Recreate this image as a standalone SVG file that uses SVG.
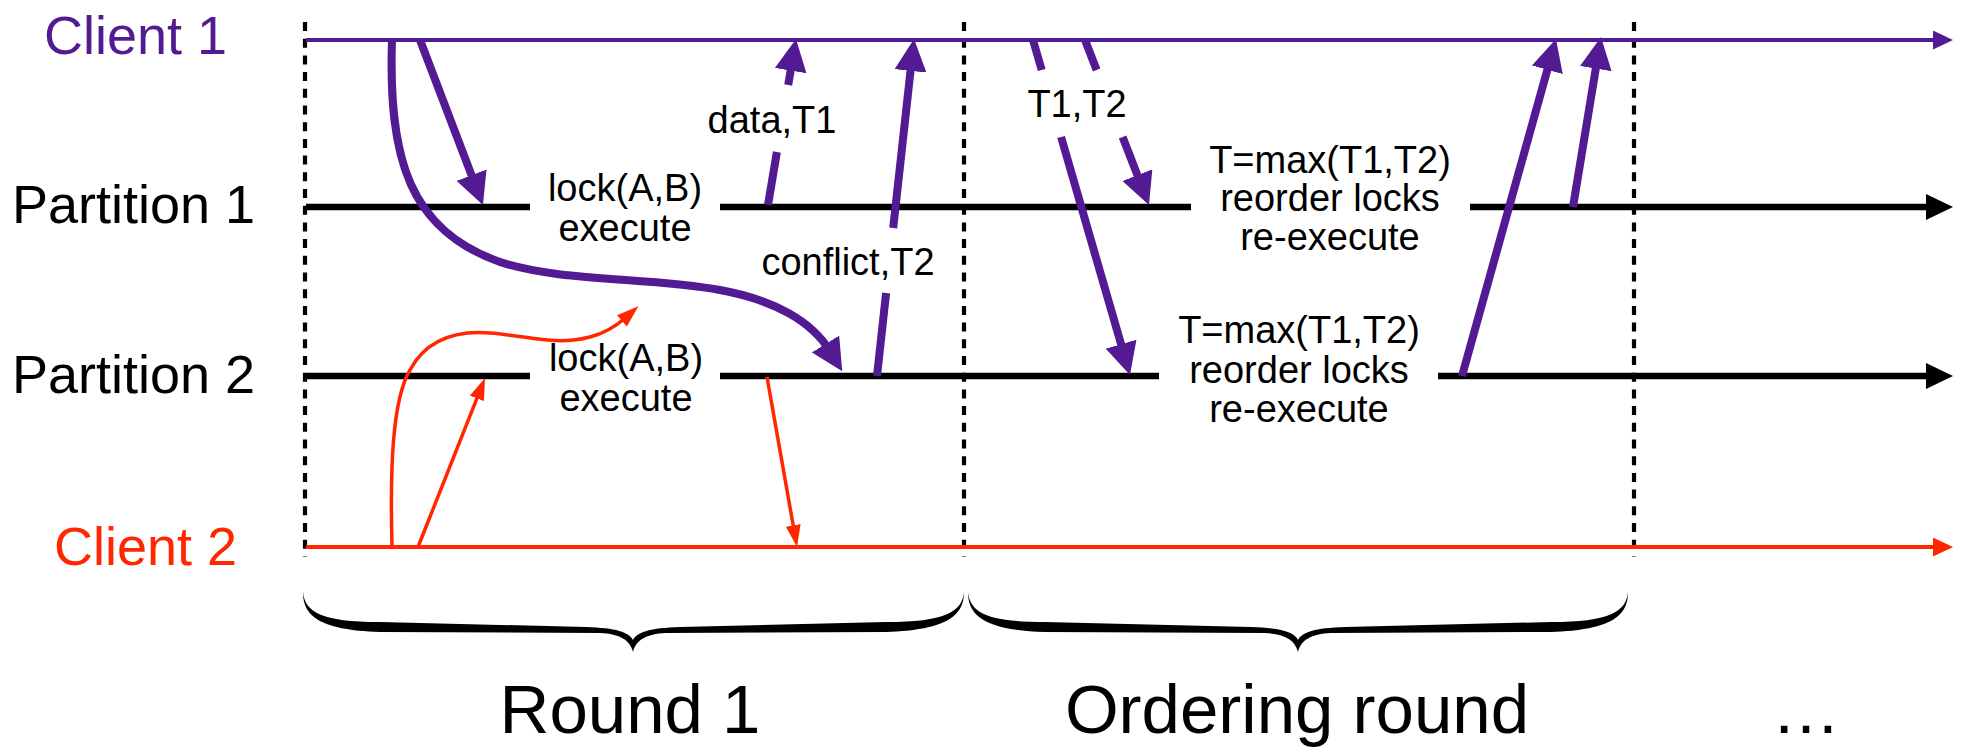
<svg xmlns="http://www.w3.org/2000/svg" width="1963" height="748" viewBox="0 0 1963 748">
<style>
text{font-family:"Liberation Sans",Arial,sans-serif}
.lbl{font-size:54px}
.sm{font-size:38px;text-anchor:middle;fill:#000}
.big{font-size:69px;text-anchor:middle;fill:#000}
.dash{stroke:#000;stroke-width:4.2;stroke-dasharray:9 7.7;fill:none}
.tlP{stroke:#531b93;stroke-width:4;fill:none}
.tlR{stroke:#ff2600;stroke-width:4;fill:none}
.tlK{stroke:#000;stroke-width:6.5;fill:none}
.mP{stroke:#531b93;stroke-width:8;fill:none}
.mR{stroke:#ff2600;stroke-width:3.5;fill:none}
.brace{fill:#000}
</style>
<defs>
<marker id="ahP" markerUnits="userSpaceOnUse" viewBox="0 0 32 32" refX="8" refY="16" markerWidth="32" markerHeight="32" orient="auto"><path d="M0,0 L32,16 L0,32 Z" fill="#531b93"/></marker>
<marker id="ahR" markerUnits="userSpaceOnUse" viewBox="0 0 22 15" refX="4" refY="7.5" markerWidth="22" markerHeight="15" orient="auto"><path d="M0,0 L22,7.5 L0,15 Z" fill="#ff2600"/></marker>
<marker id="tP" markerUnits="userSpaceOnUse" viewBox="0 0 20 19" refX="2" refY="9.5" markerWidth="20" markerHeight="19" orient="auto"><path d="M0,0 L20,9.5 L0,19 Z" fill="#531b93"/></marker>
<marker id="tR" markerUnits="userSpaceOnUse" viewBox="0 0 20 19" refX="2" refY="9.5" markerWidth="20" markerHeight="19" orient="auto"><path d="M0,0 L20,9.5 L0,19 Z" fill="#ff2600"/></marker>
<marker id="tK" markerUnits="userSpaceOnUse" viewBox="0 0 27 26" refX="2" refY="13" markerWidth="27" markerHeight="26" orient="auto"><path d="M0,0 L27,13 L0,26 Z" fill="#000"/></marker>
</defs>
<rect width="1963" height="748" fill="#fff"/>

<g id="round-dividers">
<line class="dash" x1="305" y1="22" x2="305" y2="557"/>
<line class="dash" x1="964" y1="22" x2="964" y2="557"/>
<line class="dash" x1="1634" y1="22" x2="1634" y2="557"/>
</g>

<g id="client1">
<text class="lbl" x="44" y="54" fill="#531b93">Client 1</text>
<line class="tlP" x1="306" y1="40" x2="1935" y2="40" marker-end="url(#tP)"/>
</g>

<g id="partition1">
<text class="lbl" x="12" y="223" fill="#000">Partition 1</text>
<line class="tlK" x1="306" y1="207" x2="530" y2="207"/>
<line class="tlK" x1="720" y1="207" x2="1191" y2="207"/>
<line class="tlK" x1="1470" y1="207" x2="1928" y2="207" marker-end="url(#tK)"/>
<text class="sm" x="625" y="201">lock(A,B)</text>
<text class="sm" x="625" y="241">execute</text>
<text class="sm" x="1330" y="173">T=max(T1,T2)</text>
<text class="sm" x="1330" y="211">reorder locks</text>
<text class="sm" x="1330" y="250">re-execute</text>
</g>

<g id="partition2">
<text class="lbl" x="12" y="393" fill="#000">Partition 2</text>
<line class="tlK" x1="306" y1="376" x2="530" y2="376"/>
<line class="tlK" x1="720" y1="376" x2="1159" y2="376"/>
<line class="tlK" x1="1438" y1="376" x2="1928" y2="376" marker-end="url(#tK)"/>
<text class="sm" x="626" y="371">lock(A,B)</text>
<text class="sm" x="626" y="411">execute</text>
<text class="sm" x="1299" y="343">T=max(T1,T2)</text>
<text class="sm" x="1299" y="383">reorder locks</text>
<text class="sm" x="1299" y="422">re-execute</text>
</g>

<g id="client2">
<text class="lbl" x="54" y="565" fill="#ff2600">Client 2</text>
<line class="tlR" x1="306" y1="547" x2="1935" y2="547" marker-end="url(#tR)"/>
</g>

<g id="connectors">
<path class="mP" d="M420,40 L474.4,182.6" marker-end="url(#ahP)"/>
<path class="mP" d="M392,40 C388,160 410,230 500,262 C560,282 650,277 720,290 C775,300 812,322 829.7,350.8" marker-end="url(#ahP)"/>
<path class="mP" d="M768,205 L776.9,152"/>
<path class="mP" d="M788.2,85 L792,62.7" marker-end="url(#ahP)"/>
<path class="mP" d="M877,376 L886.1,293"/>
<path class="mP" d="M893.2,228 L911.4,62.9" marker-end="url(#ahP)"/>
<path class="mP" d="M1033,40 L1041.7,70"/>
<path class="mP" d="M1061.1,137 L1123.3,351.9" marker-end="url(#ahP)"/>
<path class="mP" d="M1085,40 L1096.6,70"/>
<path class="mP" d="M1122.6,137 L1140.3,182.6" marker-end="url(#ahP)"/>
<path class="mP" d="M1462,376 L1549.5,62.1" marker-end="url(#ahP)"/>
<path class="mP" d="M1573,207 L1597.1,60.7" marker-end="url(#ahP)"/>
<path class="mR" d="M418,547 L478.4,394.7" marker-end="url(#ahR)"/>
<path class="mR" d="M392,547 C390,470 392,400 410,370 C425,342 452,330 490,333 C530,336 555,346 590,337 C605,333 616,326 624.9,318.2" marker-end="url(#ahR)"/>
<path class="mR" d="M767,377 L793.9,529.3" marker-end="url(#ahR)"/>
<text class="sm" x="772" y="133">data,T1</text>
<text class="sm" x="848" y="275">conflict,T2</text>
<text class="sm" x="1077" y="117">T1,T2</text>
</g>

<g id="round1">
<path class="brace" d="M303,592 C303,615 318,630 380,632 L600,633 C620,634 630,640 633,652 C636,640 646,634 666,633 L886,632 C948,630 964,615 964,592 C962,612 945,622 886,622 L680,627 C650,628 637,632 633,640 C629,632 616,628 586,627 L380,622 C321,622 305,612 303,592 Z"/>
<text class="big" x="630" y="733">Round 1</text>
</g>

<g id="ordering-round">
<path class="brace" d="M968,592 C968,615 983,630 1045,632 L1265,633 C1285,634 1295,640 1298,652 C1301,640 1311,634 1331,633 L1551,632 C1613,630 1628,615 1628,592 C1626,612 1609,622 1551,622 L1345,627 C1315,628 1302,632 1298,640 C1294,632 1281,628 1251,627 L1045,622 C986,622 970,612 968,592 Z"/>
<text class="big" x="1297" y="733">Ordering round</text>
</g>

<g id="more">
<text class="big" x="1806" y="733">…</text>
</g>
</svg>
